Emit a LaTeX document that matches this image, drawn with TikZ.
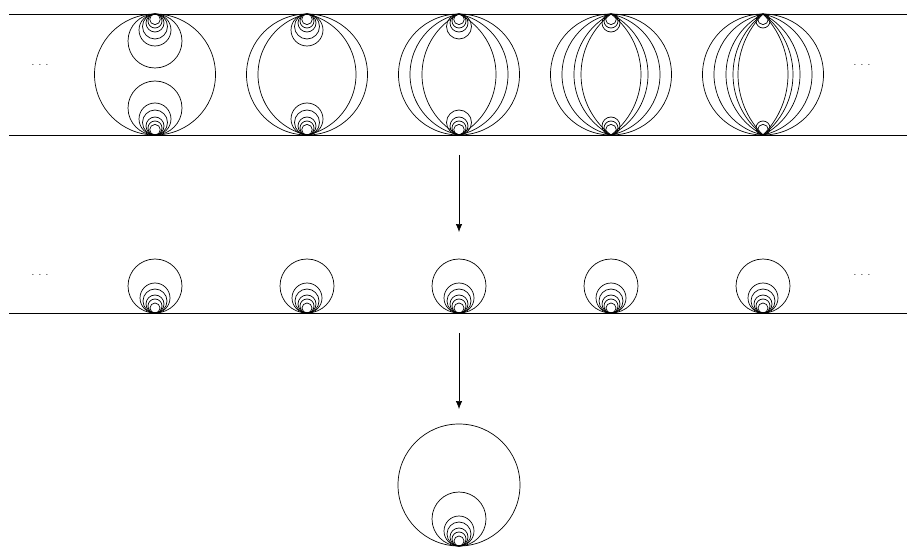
\documentclass[tikz,border=0pt]{standalone}
\usetikzlibrary{arrows.meta}
\begin{document}
\begin{tikzpicture}[x=1pt,y=1pt]
        \useasboundingbox (0,0) rectangle (916,550);
        % top strip
        \draw[line width=0.9pt] (9,536) -- (907,536);
        \draw[line width=0.9pt] (9,415) -- (907,415);
        \node(dotsTL) at (40,485){.\kern4.3pt.\kern4.3pt.};
        \node(dotsTR) at (862,485){.\kern4.3pt.\kern4.3pt.};
        \foreach \k in {0,...,4}{
            \pgfmathsetmacro{\cx}{155+152*\k}
            \draw[line width=0.7pt] (\cx,475.5) circle[radius=60.5];
            \foreach \r [count=\i] in {27,16,12.5,9,7,5.3}{
                \ifnum\i>\k
                    \draw[line width=0.7pt] (\cx,536-\r) circle[radius=\r];
                    \draw[line width=0.7pt] (\cx,415+\r) circle[radius=\r];
                \fi
            }
            \foreach \w [count=\j] in {49,37,30,25}{
                \ifnum\j>\k \else
                    \pgfmathsetmacro{\rho}{(60.5*60.5+\w*\w)/(2*\w)}
                    \pgfmathsetmacro{\b}{atan2(60.5,\rho-\w)}
                    \draw[line width=0.7pt] (\cx,536) arc[start angle=180-\b, end angle=180+\b, radius=\rho]
                        arc[start angle=-\b, end angle=\b, radius=\rho] -- cycle;
                \fi
            }
        }
        \coordinate(arrA1) at (459,395);
        \coordinate(arrA2) at (459,318);
        \draw[line width=0.7pt, -{Latex[length=8pt,width=6.5pt]}] (arrA1) -- (arrA2);
        % middle row
        \draw[line width=0.9pt] (9,237) -- (907,237);
        \node(dotsML) at (40,275){.\kern4.3pt.\kern4.3pt.};
        \node(dotsMR) at (862,275){.\kern4.3pt.\kern4.3pt.};
        \foreach \k in {0,...,4}{
            \pgfmathsetmacro{\cx}{155+152*\k}
            \foreach \r in {27,15,12,9,7,5}{
                \draw[line width=0.7pt] (\cx,237+\r) circle[radius=\r];
            }
        }
        \coordinate(arrB1) at (459,217);
        \coordinate(arrB2) at (459,141);
        \draw[line width=0.7pt, -{Latex[length=8pt,width=6.5pt]}] (arrB1) -- (arrB2);
        % limit
        \draw[line width=0.7pt] (459,65) circle[radius=61];
        \foreach \r in {27,15,12,9,7,5}{
            \draw[line width=0.7pt] (459,4+\r) circle[radius=\r];
        }
    \end{tikzpicture}
\end{document}
